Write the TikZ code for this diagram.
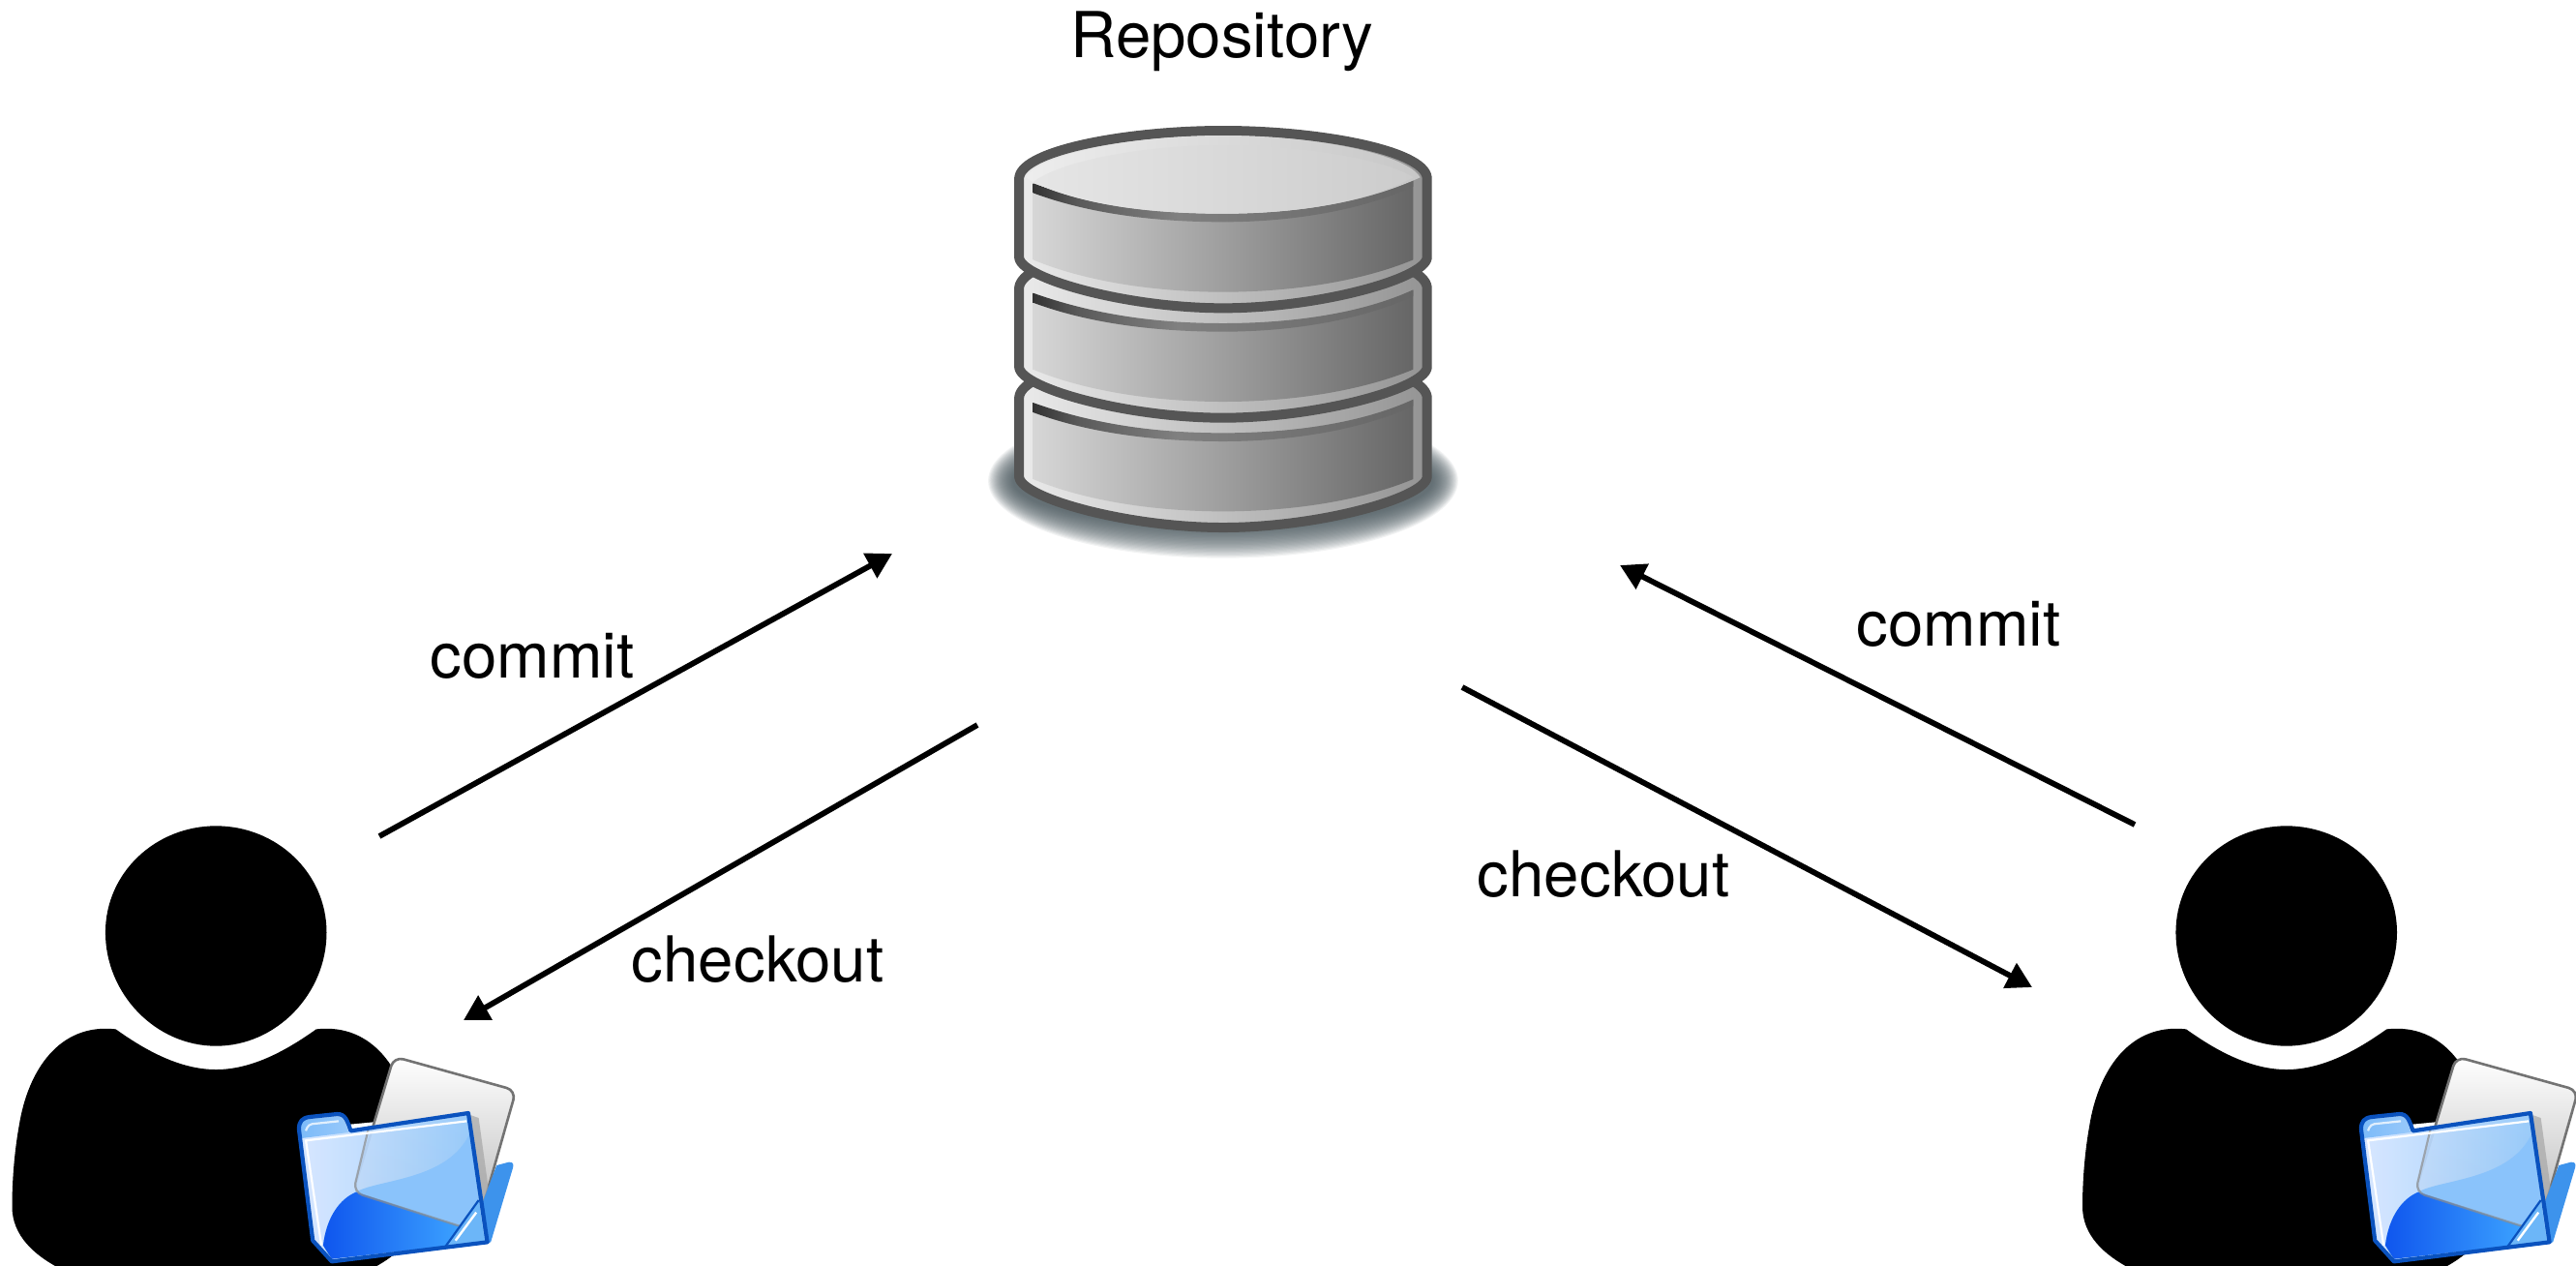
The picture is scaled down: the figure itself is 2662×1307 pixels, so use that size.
\documentclass[tikz,border=0pt]{standalone}
\usepackage{fontspec}
\setmainfont{TeX Gyre Heros}
\usetikzlibrary{arrows.meta}
\definecolor{dbline}{HTML}{555555}
\definecolor{fblue}{HTML}{0A52BE}
\definecolor{frontL}{HTML}{D4E5FF}
\definecolor{frontR}{HTML}{8CC6FC}
\definecolor{waveC}{HTML}{8AC3FB}
\definecolor{blobL}{HTML}{0F56EE}
\definecolor{blobR}{HTML}{3CA2FF}
\definecolor{flapC}{HTML}{3D93EC}
\definecolor{foldC}{HTML}{6CB6F8}
\definecolor{tabC}{HTML}{7DBBF9}
\definecolor{shadowC}{HTML}{47555B}
\definecolor{dkA}{HTML}{333333}
\definecolor{dkB}{HTML}{5A5A5A}
\definecolor{dkC}{HTML}{808080}
\definecolor{dkD}{HTML}{666666}
\pgfdeclarehorizontalshading{dbdark}{100bp}{color(0bp)=(dkA); color(25bp)=(dkA); color(31bp)=(dkB); color(44bp)=(dkC); color(75bp)=(dkD); color(100bp)=(dkD)}
\tikzset{
  iconunits/.style={x=0.17857pt,y=-0.16667pt},
  flow/.style={line width=2.9pt,black,-{Triangle[length=13pt,width=14pt]}},
  lbl/.style={anchor=base,font=\fontsize{32.7}{38}\selectfont,inner sep=0pt,text=black},
  dboutline/.style={draw=dbline,line width=5pt,line join=round},
}
\newcommand{\dbpath}[2]{(205,#1) .. controls (215,#1-85) and (520,#1-145) .. (795,#1-145) .. controls (1070,#1-145) and (1375,#1-85) .. (1385,#1) -- (1385,#2) .. controls (1375,#2+65) and (1070,#2+155) .. (795,#2+155) .. controls (520,#2+155) and (215,#2+65) .. (205,#2) -- cycle}
\newcommand{\dbband}[2]{%
  \shade[left color=white!92!black,middle color=white!89!black,right color=white!58!black] \dbpath{#1}{#2};
  \shade[left color=white!84!black,middle color=white!68!black,right color=white!40!black]
    (245,#1+20) .. controls (420,#1+95) and (600,#1+125) .. (795,#1+125) .. controls (1000,#1+125) and (1200,#1+90) .. (1345,#1+10) -- (1345,#2+5) .. controls (1200,#2+70) and (1000,#2+105) .. (795,#2+105) .. controls (590,#2+105) and (390,#2+70) .. (245,#2+5) -- cycle;
  \shade[shading=dbdark]
    (245,#1+18) .. controls (420,#1+85) and (600,#1+112) .. (795,#1+112) .. controls (1000,#1+112) and (1200,#1+80) .. (1345,#1+8) -- (1345,#1+28) .. controls (1200,#1+100) and (1000,#1+138) .. (795,#1+138) .. controls (590,#1+138) and (400,#1+110) .. (245,#1+48) -- cycle;
  \draw[dboutline] \dbpath{#1}{#2};
}
\newcommand{\personicon}[2]{%
  \begin{scope}[shift={(#1,#2)},iconunits]
    \fill[black] (625,70) .. controls (800,70) and (945,215) .. (945,400) .. controls (945,590) and (800,752) .. (625,752) .. controls (450,752) and (305,590) .. (305,400) .. controls (305,215) and (450,70) .. (625,70) -- cycle;
    \fill[black] (335,700) .. controls (420,765) and (520,825) .. (625,825) .. controls (730,825) and (830,765) .. (915,700) .. controls (1080,680) and (1170,830) .. (1195,1000) .. controls (1210,1090) and (1215,1180) .. (1215,1250) .. controls (1215,1340) and (1150,1400) .. (1080,1440) -- (170,1440) .. controls (100,1400) and (35,1340) .. (35,1250) .. controls (35,1180) and (40,1090) .. (55,1000) .. controls (80,830) and (170,680) .. (335,700) -- cycle;
  \end{scope}
}
\newcommand{\foldericon}[2]{%
  \begin{scope}[shift={(#1,#2)},iconunits]
    % white under the front, hides the body
    \fill[white] (865,1010) -- (1355,960) -- (1410,1360) -- (960,1420) -- (905,1355) -- cycle;
    % paper
    \shade[top color=white,middle color=white!97!black,bottom color=white!72!black,draw=black!55,line width=1.3pt,rounded corners=5pt]
      (1140,785) -- (1493,890) -- (1400,1240) -- (1340,1312) -- (1022,1205) -- cycle;
    % shadow of the front on the paper
    \fill[black!35,opacity=.7] (1358,965) -- (1385,975) -- (1418,1230) -- (1395,1235) -- cycle;
    % back flap
    \fill[flapC] (1395,1240) -- (1437,1122) -- (1472,1112) .. controls (1485,1110) and (1487,1120) .. (1484,1130) -- (1420,1360) -- (1400,1366) -- cycle;
    % folder front
    \shade[left color=frontL,right color=frontR,opacity=.9]
      (865,1010) .. controls (865,985) and (875,975) .. (895,972) -- (975,963) .. controls (1000,962) and (1005,985) .. (1015,1015) -- (1355,960) -- (1410,1360) -- (960,1420) -- (905,1355) -- cycle;
    \shade[left color=tabC,right color=tabC!80!white] (872,1038) -- (870,1000) .. controls (870,985) and (880,980) .. (895,978) -- (975,970) .. controls (995,970) and (1000,990) .. (1008,1020) -- cycle;
    % wave in the folder
    \fill[waveC] (935,1370) .. controls (945,1280) and (985,1225) .. (1030,1205) .. controls (1090,1165) and (1300,1170) .. (1360,1020) -- (1398,1350) -- (950,1400) -- cycle;
    \shade[left color=blobL,right color=blobR] (935,1370) .. controls (945,1280) and (985,1225) .. (1030,1205) -- (1335,1312) -- (1290,1372) -- (960,1412) -- cycle;
    \draw[black!45,line width=1.1pt,opacity=.7,rounded corners=5pt] (1068,1000) -- (1022,1205) -- (1335,1312);
    % highlights
    \draw[white,line width=1.1pt] (930,1370) -- (885,1045) -- (1350,985);
    \draw[white,opacity=.75,line width=1.1pt,rounded corners=2pt] (885,1015) -- (892,995) -- (980,985);
    % fold
    \fill[foldC] (1290,1372) -- (1385,1230) -- (1402,1355) -- cycle;
    \draw[white,line width=1.2pt] (1318,1355) -- (1378,1268);
    \draw[fblue,line width=1.1pt] (1290,1372) -- (1385,1230);
    % front outline
    \draw[fblue,line width=2.1pt,line join=round]
      (865,1010) .. controls (865,985) and (875,975) .. (895,972) -- (975,963) .. controls (1000,962) and (1005,985) .. (1015,1015) -- (1355,960) -- (1410,1360) -- (960,1420) -- (905,1355) -- cycle;
  \end{scope}
}
\begin{document}
\begin{tikzpicture}[x=0.5pt,y=-0.5pt]
  \useasboundingbox (0,0) rectangle (2662,1307);
  \clip (0,0) rectangle (2662,1307);
  % repository
  \begin{scope}[shift={(980,100)},iconunits]
    \foreach \k in {0,...,24}{
      \fill[shadowC,opacity=.07] (795,1190) ellipse ({680-3*\k} and {240-4*\k});
    }
    \dbband{930}{1180}
    \dbband{590}{840}
    \dbband{250}{500}
    % top cap
    \shade[left color=white!93!black,right color=white!78!black]
      (225,250) .. controls (260,180) and (520,120) .. (795,120) .. controls (1070,120) and (1330,180) .. (1365,250) .. controls (1200,330) and (1000,362) .. (795,362) .. controls (600,362) and (400,340) .. (245,265) -- cycle;
    \shade[left color=white!90!black,right color=white!80!black]
      (245,265) .. controls (320,200) and (560,150) .. (795,150) .. controls (1040,150) and (1280,200) .. (1345,250) .. controls (1200,330) and (1000,362) .. (795,362) .. controls (600,362) and (400,340) .. (245,265) -- cycle;
  \end{scope}
  % users
  \personicon{0}{830}
  \foldericon{0}{830}
  \personicon{2139.5}{830}
  \foldericon{2131}{830}
  % labels
  \node[lbl] (repolabel) at (1263,59) {Repository};
  \node[lbl] (commitL) at (550,700) {commit};
  \node[lbl] (checkoutL) at (783,1014) {checkout};
  \node[lbl] (commitR) at (2024,667) {commit};
  \node[lbl] (checkoutR) at (1657,926) {checkout};
  % connector ends
  \coordinate (aS) at (392,864);  \coordinate (aE) at (922,572);
  \coordinate (bS) at (1010,749); \coordinate (bE) at (479,1054);
  \coordinate (cS) at (2206,852); \coordinate (cE) at (1674,584);
  \coordinate (dS) at (1511,710); \coordinate (dE) at (2100,1020);
  \draw[flow] (aS) -- (aE);
  \draw[flow] (bS) -- (bE);
  \draw[flow] (cS) -- (cE);
  \draw[flow] (dS) -- (dE);
\end{tikzpicture}
\end{document}
